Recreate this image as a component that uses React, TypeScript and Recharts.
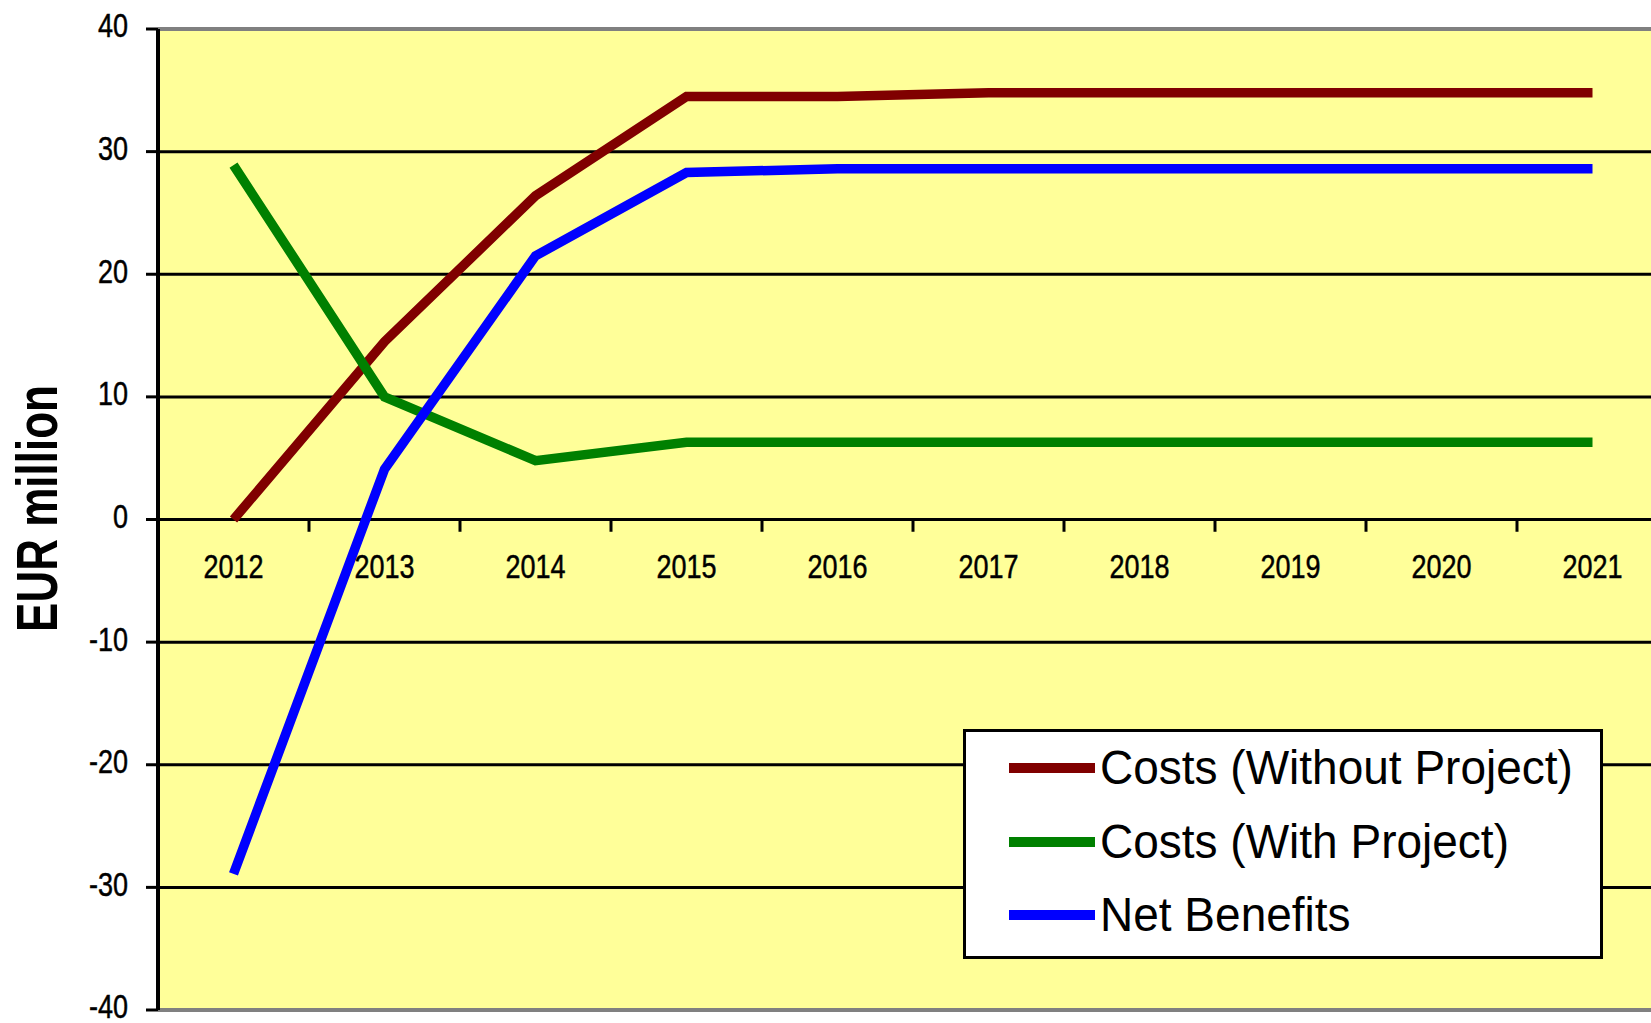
import {
  LineChart,
  Line,
  XAxis,
  YAxis,
  CartesianGrid,
  ReferenceLine,
  ReferenceDot,
  Legend
} from 'recharts';

const years = [2012, 2013, 2014, 2015, 2016, 2017, 2018, 2019, 2020, 2021];
const costsWithoutProject = [0, 14.5, 26.4, 34.5, 34.5, 34.8, 34.8, 34.8, 34.8, 34.8];
const costsWithProject = [28.9, 10.0, 4.8, 6.3, 6.3, 6.3, 6.3, 6.3, 6.3, 6.3];
const netBenefits = [-28.9, 4.1, 21.5, 28.3, 28.6, 28.6, 28.6, 28.6, 28.6, 28.6];
const yTicks = [-40, -30, -20, -10, 0, 10, 20, 30, 40];
const seriesNames = ['Costs (Without Project)', 'Costs (With Project)', 'Net Benefits'];

// category boundaries, where Excel puts its x tick marks
const yearEdges = years.slice(0, -1).map((y) => y + 0.5);

const chartData = years.map((year, i) => ({
  year,
  without: costsWithoutProject[i],
  with: costsWithProject[i],
  net: netBenefits[i]
}));

const FONT = '"Liberation Sans", Arial, sans-serif';

function YTick({ x, y, payload }: any) {
  return (
    <text
      transform={`translate(${x},${y}) scale(1,1.2)`}
      y={7}
      textAnchor="end"
      fontFamily={FONT}
      fontSize={27}
      fill="#000"
      stroke="#000"
      strokeWidth={0.4}
    >
      {payload.value}
    </text>
  );
}

function YearLabel({ viewBox, text }: any) {
  const cx = viewBox.x + viewBox.width / 2;
  const cy = viewBox.y + viewBox.height / 2;
  return (
    <text
      transform={`translate(${cx},${cy + 58.5}) scale(1,1.2)`}
      textAnchor="middle"
      fontFamily={FONT}
      fontSize={27}
      fill="#000"
      stroke="#000"
      strokeWidth={0.4}
    >
      {text}
    </text>
  );
}

function AxisTitle({ viewBox }: any) {
  const cy = viewBox.y + viewBox.height / 2 - 11;
  return (
    <text
      transform={`translate(37,${cy}) rotate(-90) scale(1,1.3)`}
      textAnchor="middle"
      dominantBaseline="central"
      fontFamily={FONT}
      fontWeight="bold"
      fontSize={44}
      fill="#000"
    >
      EUR million
    </text>
  );
}

function LegendBox({ payload }: any) {
  // keep the series order, recharts sorts the payload by name
  const items = [...(payload || [])].sort(
    (a: any, b: any) => seriesNames.indexOf(a.value) - seriesNames.indexOf(b.value)
  );
  return (
    <div
      style={{
        width: 640,
        height: 230,
        boxSizing: 'border-box',
        border: '3px solid #000',
        background: '#fff',
        position: 'relative'
      }}
    >
      {items.map((entry: any, i: number) => (
        <div
          key={entry.value}
          style={{
            position: 'absolute',
            left: 43,
            top: 36 + i * 73.7 - 25,
            height: 50,
            display: 'flex',
            alignItems: 'center',
            whiteSpace: 'nowrap'
          }}
        >
          <span style={{ display: 'inline-block', width: 86, height: 10, background: entry.color }} />
          <span
            style={{
              marginLeft: 5,
              fontFamily: FONT,
              fontSize: 46,
              lineHeight: 1,
              color: '#000',
              display: 'inline-block',
              transform: 'scaleY(1.03)'
            }}
          >
            {entry.value}
          </span>
        </div>
      ))}
    </div>
  );
}

export default function App() {
  return (
    <div
      style={{
        position: 'fixed',
        left: 0,
        top: 0,
        width: 1651,
        height: 1023,
        overflow: 'hidden',
        background: '#fff'
      }}
    >
      <LineChart
        width={1700}
        height={1023}
        data={chartData}
        margin={{ top: 29, right: 32, bottom: 13, left: 0 }}
      >
        <CartesianGrid
          vertical={false}
          stroke="#000"
          strokeWidth={3}
          fill="#FFFF99"
          fillOpacity={1}
        />
        <XAxis
          dataKey="year"
          type="number"
          domain={[2011.5, 2021.5]}
          hide
        />
        <YAxis
          width={158}
          domain={[-40, 40]}
          ticks={yTicks}
          interval={0}
          axisLine={{ stroke: '#000', strokeWidth: 4 }}
          tickLine={{ stroke: '#000', strokeWidth: 3 }}
          tickSize={12}
          tickMargin={18}
          tick={<YTick />}
          label={<AxisTitle />}
        />
        <ReferenceLine y={40} stroke="#808080" strokeWidth={4} />
        <ReferenceLine y={-40} stroke="#808080" strokeWidth={4} />
        {yearEdges.map((edge) => (
          <ReferenceLine
            key={edge}
            segment={[{ x: edge, y: 0 }, { x: edge, y: -1 }]}
            stroke="#000"
            strokeWidth={3}
          />
        ))}
        {years.map((year) => (
          <ReferenceDot
            key={year}
            x={year}
            y={0}
            r={1}
            fill="none"
            stroke="none"
            label={<YearLabel text={String(year)} />}
          />
        ))}
        <Line
          type="linear"
          dataKey="without"
          name={seriesNames[0]}
          stroke="#800000"
          strokeWidth={9.5}
          dot={false}
          isAnimationActive={false}
        />
        <Line
          type="linear"
          dataKey="with"
          name={seriesNames[1]}
          stroke="#008000"
          strokeWidth={9.5}
          dot={false}
          isAnimationActive={false}
        />
        <Line
          type="linear"
          dataKey="net"
          name={seriesNames[2]}
          stroke="#0000FF"
          strokeWidth={9.5}
          dot={false}
          isAnimationActive={false}
        />
        <Legend
          layout="vertical"
          align="center"
          verticalAlign="middle"
          content={<LegendBox />}
          wrapperStyle={{ left: 963, top: 729, width: 640, height: 230 }}
        />
      </LineChart>
    </div>
  );
}
